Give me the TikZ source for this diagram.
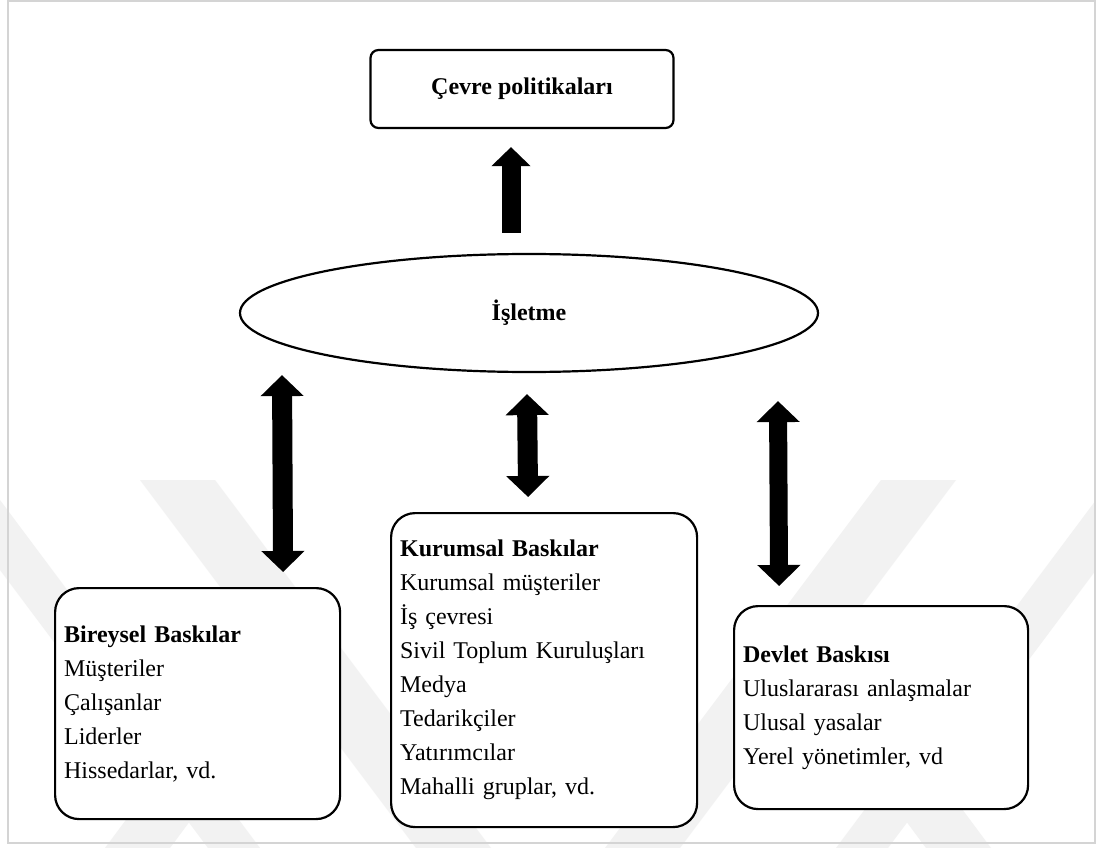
\documentclass[tikz,border=0pt]{standalone}
\usepackage{fontspec}
\setmainfont{Liberation Serif}
\usetikzlibrary{arrows.meta,calc,shapes.geometric}
\begin{document}
\begin{tikzpicture}[x=1pt,y=-1pt,
  txt/.style={font=\fontsize{24}{34}\selectfont},
  outline/.style={draw=black, line width=2.2pt, fill=white},
  roundbox/.style={outline, rounded corners=24pt, align=left, inner xsep=9pt,
    inner ysep=0pt, anchor=north west, txt},
  mark band/.style={fill=black!5, draw=none},
  uparrow/.style={line width=19pt, arrows={-Triangle[length=19pt,width=38pt]}},
  bidir/.style={line width=#1,
    arrows={Triangle[length=21pt,width=42pt]-Triangle[length=21pt,width=42pt]}},
]
\useasboundingbox (0,0) rectangle (1096,848);
\fill[white] (0,0) rectangle (1096,848);

% faint background bands
\fill[mark band] (0,500) -- (0,570) -- (208,848) -- (260,848) -- cycle;
\fill[mark band] (140,480) -- (215,480) -- (491,848) -- (416,848) -- cycle;
\fill[mark band] (881,480) -- (956,480) -- (680,848) -- (605,848) -- cycle;
\fill[mark band] (1096,500) -- (1096,570) -- (888,848) -- (836,848) -- cycle;
\fill[mark band] (105,848) -- (170,848) -- (280,700) -- (215,700) -- cycle;
\fill[mark band] (926,848) -- (991,848) -- (881,700) -- (816,700) -- cycle;

% outer frame
\draw[draw=black!17, line width=2pt] (8,1) rectangle (1095,843);

% nodes
\node[outline, rounded corners=8pt, minimum width=303pt, minimum height=78pt, txt]
  (cev) at (522,89) {\textbf{Çevre politikaları}};
\node[outline, ellipse, minimum width=578pt, minimum height=118pt, inner sep=0pt, txt]
  (isl) at (529,313) {\textbf{İşletme}};

\node[roundbox, minimum height=231pt, text width=267pt] (bir) at (54,587)
  {\textbf{Bireysel Baskılar}\\Müşteriler\\Çalışanlar\\Liderler\\Hissedarlar, vd.};
\node[roundbox, minimum height=314pt, text width=288pt] (kur) at (390,512)
  {\textbf{Kurumsal Baskılar}\\Kurumsal müşteriler\\İş çevresi\\Sivil Toplum Kuruluşları\\Medya\\Tedarikçiler\\Yatırımcılar\\Mahalli gruplar, vd.};
\node[roundbox, minimum height=203pt, text width=276pt] (dev) at (733,605)
  {\textbf{Devlet Baskısı}\\Uluslararası anlaşmalar\\Ulusal yasalar\\Yerel yönetimler, vd};

% block arrows
\draw[uparrow] ($(isl.north)+(-18,-20)$) -- ($(cev.south)+(-11,18)$);
\draw[bidir=20pt] ($(isl.south)+(-247,2)$) -- ($(bir.north)+(85.5,-15)$);
\draw[bidir=20pt] ($(isl.south)+(-2,21)$) -- ($(kur.north)+(-16,-15)$);
\draw[bidir=18pt] ($(isl.south)+(249,28)$) -- ($(dev.north)+(-102,-19)$);
\end{tikzpicture}
\end{document}
